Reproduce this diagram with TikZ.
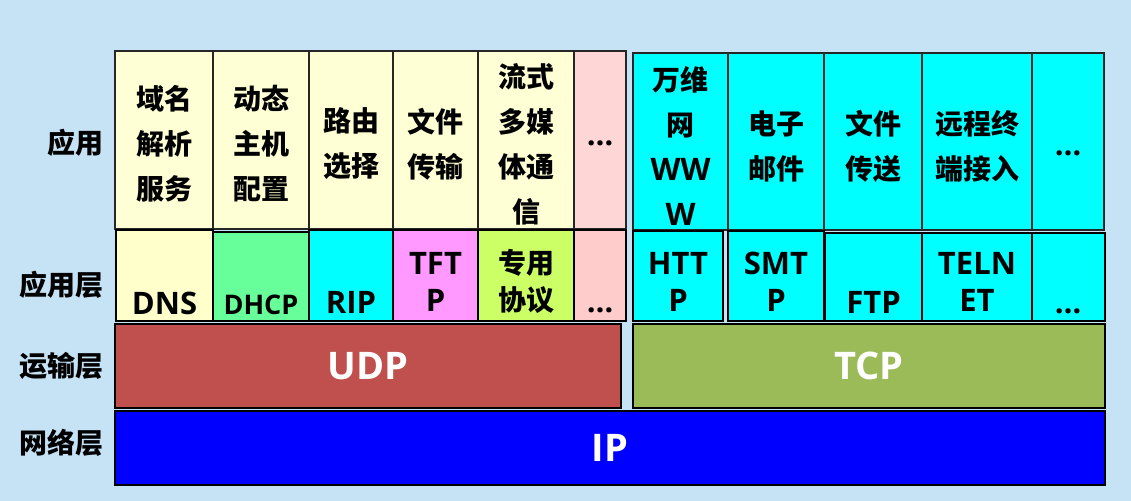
\documentclass[tikz,border=0pt]{standalone}
\usepackage{fontspec}
\setmainfont{Noto Sans CJK SC}
\newfontfamily\latfont{Open Sans}
\usetikzlibrary{fit}
\definecolor{bgblue}{RGB}{198,226,245}
\definecolor{appyellow}{RGB}{255,255,214}
\definecolor{apppink}{RGB}{255,214,214}
\definecolor{netcyan}{RGB}{0,255,255}
\definecolor{dnsyellow}{RGB}{255,255,204}
\definecolor{dhcpgreen}{RGB}{102,255,153}
\definecolor{tftppink}{RGB}{255,153,255}
\definecolor{ownlime}{RGB}{204,255,102}
\definecolor{morepink}{RGB}{255,204,204}
\definecolor{udpred}{RGB}{192,80,77}
\definecolor{tcpgreen}{RGB}{155,187,89}
\definecolor{ipblue}{RGB}{0,0,255}

\begin{document}
\begin{tikzpicture}[
    x=0.5pt, y=-0.5pt,
    cell/.style={draw=black!85, line width=0.9pt, inner sep=0pt},
    proto/.style={draw=black, line width=0.8pt, inner sep=0pt},
    cjk/.style={inner sep=0pt, align=center, font=\bfseries\fontsize{14pt}{22.5pt}\selectfont},
    lat/.style={inner sep=0pt, align=center, font=\latfont\bfseries\fontsize{15.5pt}{18.5pt}\selectfont},
    cjkmid/.style={inner sep=0pt, align=center, font=\bfseries\fontsize{14pt}{18.5pt}\selectfont},
    big/.style={inner sep=0pt, text=white, font=\latfont\bfseries\fontsize{19pt}{23pt}\selectfont},
    layer/.style={anchor=east, inner sep=0pt, font=\bfseries\fontsize{14pt}{16pt}\selectfont}
]
    \fill[bgblue] (0,0) rectangle (1131,501);

    % layer names
    \node[layer] (lapp) at (104,143) {应用};
    \node[layer] (lappl) at (104,285) {应用层};
    \node[layer] (ltrans) at (104,366) {运输层};
    \node[layer] (lnet) at (104,443) {网络层};

    % applications, UDP side
    \node[cell, fill=appyellow, fit={(115,51) (213,229)}] (adns) {};
    \node[cell, fill=appyellow, fit={(213,51) (309,229)}] (adhcp) {};
    \node[cell, fill=appyellow, fit={(309,51) (393,229)}] (arip) {};
    \node[cell, fill=appyellow, fit={(393,51) (478,229)}] (atftp) {};
    \node[cell, fill=appyellow, fit={(478,51) (574,229)}] (astream) {};
    \node[cell, fill=apppink, fit={(574,51) (626,229)}] (aumore) {};
    \node[cjk] (tdns) at (164,144) {域名\\解析\\服务};
    \node[cjk] (tdhcp) at (261,144) {动态\\主机\\配置};
    \node[cjk] (trip) at (351,144) {路由\\选择};
    \node[cjk] (ttftp) at (435.5,144) {文件\\传输};
    \node[cjk] (tstream) at (526,144) {流式\\多媒\\体通\\信};
    \node[lat] (tumore) at (600,143) {…};

    % applications, TCP side
    \node[cell, fill=netcyan, fit={(633,53) (728,230)}] (awww) {};
    \node[cell, fill=netcyan, fit={(728,53) (824,230)}] (amail) {};
    \node[cell, fill=netcyan, fit={(824,53) (922,230)}] (aftp) {};
    \node[cell, fill=netcyan, fit={(922,53) (1032,230)}] (atelnet) {};
    \node[cell, fill=netcyan, fit={(1032,53) (1104,230)}] (atmore) {};
    \node[cjk] (twww) at (680.5,146) {万维\\网\\{\latfont\fontsize{15.5pt}{22.5pt}\selectfont WW}\\{\latfont\fontsize{15.5pt}{22.5pt}\selectfont W}};
    \node[cjk] (tmail) at (776,146) {电子\\邮件};
    \node[cjk] (tftp) at (873,146) {文件\\传送};
    \node[cjk] (ttelnet) at (977,146) {远程终\\端接入};
    \node[lat] (ttmore) at (1068,153) {…};

    % application layer protocols
    \node[proto, fill=dnsyellow, fit={(116,230) (213,321)}] (pdns) {};
    \node[proto, fill=dhcpgreen, fit={(213,232) (309,321)}] (pdhcp) {};
    \node[proto, fill=netcyan, fit={(309,230) (393,321)}] (prip) {};
    \node[proto, fill=tftppink, fit={(393,230) (478,321)}] (ptftp) {};
    \node[proto, fill=ownlime, fit={(478,230) (574,321)}] (pown) {};
    \node[proto, fill=morepink, fit={(574,230) (626,321)}] (pumore) {};
    \node[proto, fill=netcyan, fit={(633,231) (723,321)}] (phttp) {};
    \node[proto, fill=netcyan, fit={(728,231) (824,321)}] (psmtp) {};
    \node[proto, fill=netcyan, fit={(825,233) (922,321)}] (pftp) {};
    \node[proto, fill=netcyan, fit={(922,233) (1032,321)}] (ptelnet) {};
    \node[proto, fill=netcyan, fit={(1032,233) (1105,321)}] (ptmore) {};
    \node[lat] (ldns) at (164.5,303) {DNS};
    \node[lat, font=\latfont\bfseries\fontsize{13.5pt}{16pt}\selectfont] (ldhcp) at (261,305) {DHCP};
    \node[lat] (lrip) at (351,302) {RIP};
    \node[lat] (ltftp) at (435.5,281.5) {TFT\\P};
    \node[cjkmid] (lown) at (526,281.5) {专用\\协议};
    \node[lat] (lumore) at (600,310) {…};
    \node[lat] (lhttp) at (678,281.5) {HTT\\P};
    \node[lat] (lsmtp) at (776,281.5) {SMT\\P};
    \node[lat] (lftp) at (873.5,302) {FTP};
    \node[lat] (ltelnet) at (977,281.5) {TELN\\ET};
    \node[lat] (ltmore) at (1068,311) {…};

    % transport and network
    \node[proto, fill=udpred, fit={(115,324) (621,408)}] (udp) {};
    \node[proto, fill=tcpgreen, fit={(633,324) (1105,408)}] (tcp) {};
    \node[proto, fill=ipblue, fit={(115,411) (1105,485)}] (ip) {};
    \node[big] (tudp) at (udp.center) {UDP};
    \node[big] (ttcp) at (tcp.center) {TCP};
    \node[big] (tip) at (ip.center) {IP};
\end{tikzpicture}
\end{document}
